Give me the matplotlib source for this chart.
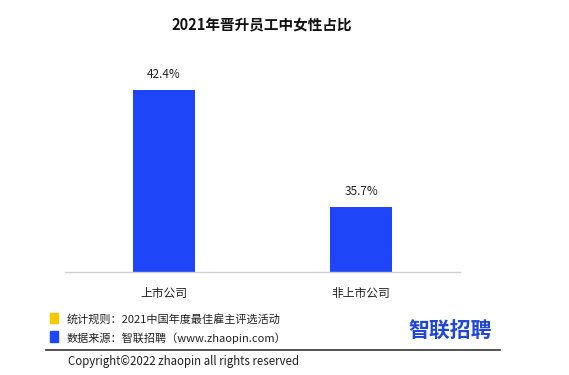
import matplotlib
matplotlib.use("Agg")
import matplotlib.pyplot as plt
from matplotlib.patches import Rectangle
from matplotlib.lines import Line2D

plt.rcParams['font.family'] = ['Noto Sans CJK SC', 'DejaVu Sans']

categories = ["上市公司", "非上市公司"]
values = [42.4, 35.7]
labels = ["42.4%", "35.7%"]

title = "2021年晋升员工中女性占比"
note_rule = "统计规则：2021中国年度最佳雇主评选活动"
note_source = "数据来源：智联招聘（www.zhaopin.com）"
copyright_text = "Copyright©2022 zhaopin all rights reserved"

W, H = 569, 375
fig = plt.figure(figsize=(W / 100, H / 100), dpi=100)

# axes placed in pixel coords: x 65..460, bottom 272, top 44.5
ax = fig.add_axes([65 / W, 1 - 272 / H, 395 / W, (272 - 44.5) / H])
bar_color = "#1f45f8"
x = range(len(categories))
bars = ax.bar(x, values, width=0.314, color=bar_color)
ax.set_xlim(-0.5, 1.5)
ax.set_ylim(32, 45)
for b, lab in zip(bars, labels):
    ax.annotate(lab, (b.get_x() + b.get_width() / 2, b.get_height()),
                xytext=(0, 6.5), textcoords="offset points",
                ha="center", va="bottom", fontsize=8.5, color="#222222")
ax.set_xticks(list(x))
ax.set_xticklabels(categories, fontsize=8.5, color="#222222")
ax.tick_params(axis="x", length=0, pad=11)
ax.set_yticks([])
for s in ["top", "right", "left"]:
    ax.spines[s].set_visible(False)
ax.spines["bottom"].set_color("#d0d0d0")
ax.spines["bottom"].set_linewidth(1.0)

fig.text(262 / W, 1 - 25 / H, title, ha="center", va="center",
         fontsize=10.5, fontweight="bold", color="#111111")

# footer
fig.patches.append(Rectangle((50 / W, 1 - 323 / H), 8 / W, 10 / H,
                             transform=fig.transFigure, color="#f5c800"))
fig.patches.append(Rectangle((50 / W, 1 - 342 / H), 8 / W, 11 / H,
                             transform=fig.transFigure, color=bar_color))
fig.text(67 / W, 1 - 319 / H, note_rule, ha="left", va="center",
         fontsize=8, color="#222222")
fig.text(67 / W, 1 - 338 / H, note_source, ha="left", va="center",
         fontsize=8, color="#222222")
fig.lines.append(Line2D([46 / W, 500 / W], [1 - 350 / H, 1 - 350 / H],
                        transform=fig.transFigure, color="#333333", lw=1.2))
fig.text(68 / W, 1 - 361 / H, copyright_text, ha="left", va="center",
         fontsize=8.3, color="#222222")
fig.text(450 / W, 1 - 331 / H, "智联招聘", ha="center", va="center",
         fontsize=15, fontweight="bold", color="#1e46d8")

fig.savefig("out.png", dpi=100)
